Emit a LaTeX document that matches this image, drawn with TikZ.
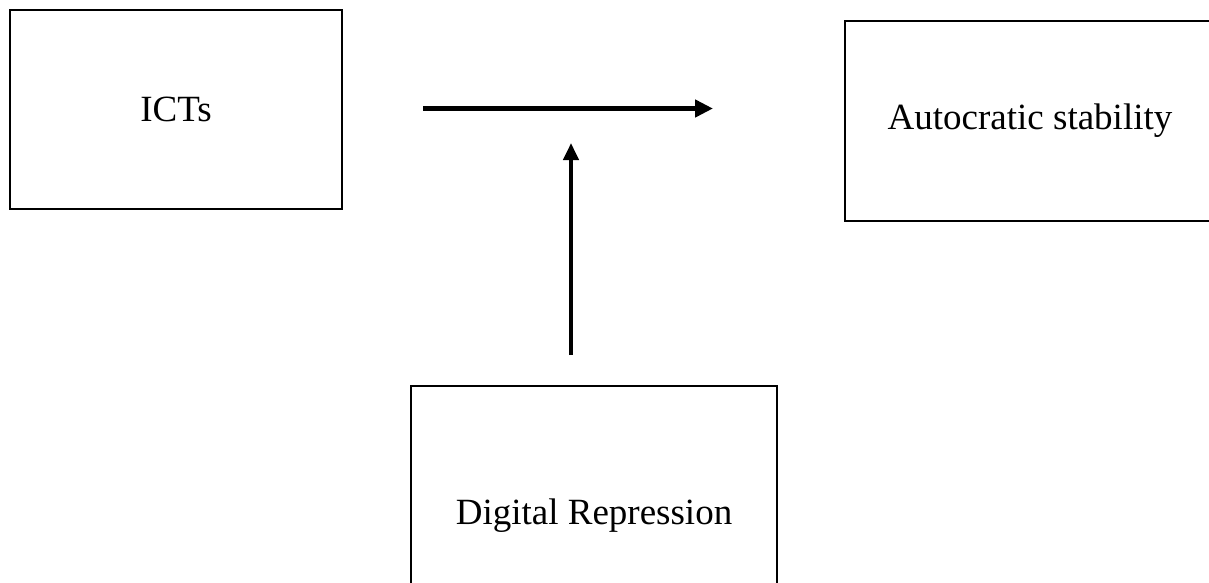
\documentclass[tikz,border=0pt]{standalone}
\usepackage{fontspec}
\setmainfont{Liberation Serif}
\usetikzlibrary{arrows.meta}
\begin{document}
\begin{tikzpicture}[x=1pt,y=-1pt,
  boxnode/.style={draw=black,line width=1.8pt,inner sep=0pt,font=\fontsize{37}{44}\selectfont},
  thickarrow/.style={line width=5pt,-{Triangle[length=18pt,width=17pt]}},
  uparrow/.style={line width=4pt,-{Triangle[length=17pt,width=15pt]}}]
\useasboundingbox (0,0) rectangle (1209,582);
\fill[white] (0,0) rectangle (1209,582);
\node[boxnode,minimum width=332pt,minimum height=199pt] (icts) at (176,109.5) {ICTs};
\node[boxnode,minimum width=370pt,minimum height=200pt] (auto) at (1030,121) {Autocratic stability};
\node[boxnode,minimum width=366pt,minimum height=260pt] (digi) at (594,516) {Digital Repression};
\coordinate (hstart) at (423,108.5);
\coordinate (hend) at (713,108.5);
\coordinate (vstart) at (571,355);
\coordinate (vend) at (571,143);
\draw[thickarrow] (hstart) -- (hend);
\draw[uparrow] (vstart) -- (vend);
\end{tikzpicture}
\end{document}
